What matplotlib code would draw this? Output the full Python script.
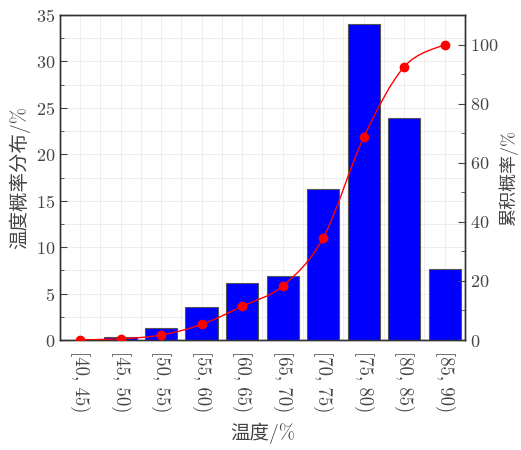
import numpy as np
import matplotlib
matplotlib.use("Agg")
import matplotlib.pyplot as plt
from matplotlib.path import Path
from matplotlib.patches import PathPatch
from matplotlib.ticker import MultipleLocator

plt.rcParams['font.family'] = ['cmr10', 'Noto Sans CJK SC', 'DejaVu Sans']
plt.rcParams['axes.formatter.use_mathtext'] = True

categories = ['[40, 45)', '[45, 50)', '[50, 55)', '[55, 60)', '[60, 65)',
              '[65, 70)', '[70, 75)', '[75, 80)', '[80, 85)', '[85, 90)']
dist = [0.05, 0.3, 1.3, 3.6, 6.1, 6.9, 16.3, 34.0, 23.9, 7.6]
cum = [0.1, 0.4, 1.7, 5.3, 11.4, 18.3, 34.6, 68.6, 92.5, 100.0]

TXT = '#444444'


def smooth_path(ax, xs, ys):
    # catmull-rom through the points, drawn as cubic bezier segments
    pts = np.array([ax.transData.transform((x, y)) for x, y in zip(xs, ys)])
    verts = [tuple(pts[0])]
    codes = [Path.MOVETO]
    n = len(pts)
    for i in range(n - 1):
        p0 = pts[i - 1] if i > 0 else pts[i]
        p1 = pts[i]
        p2 = pts[i + 1]
        p3 = pts[i + 2] if i + 2 < n else pts[i + 1]
        c1 = p1 + (p2 - p0) / 6
        c2 = p2 - (p3 - p1) / 6
        verts += [tuple(c1), tuple(c2), tuple(p2)]
        codes += [Path.CURVE4] * 3
    return Path(verts, codes)


fig = plt.figure(figsize=(5.21, 4.5), dpi=100)
ax = fig.add_axes([0.115, 0.2444, 0.7775, 0.7223])
x = np.arange(len(categories))

ax.bar(x, dist, width=0.8, color='#0000ff', edgecolor='#555555', linewidth=0.8, zorder=3)
ax.set_xlim(-0.5, len(categories) - 0.5)
ax.set_ylim(0, 35)
ax.yaxis.set_major_locator(MultipleLocator(5))
ax.yaxis.set_minor_locator(MultipleLocator(2.5))
ax.xaxis.set_minor_locator(MultipleLocator(0.5))
ax.set_xticks(x)
ax.set_xticklabels(categories, rotation=-90)
ax.grid(True, which='both', color='#ebebeb', linewidth=0.6, zorder=0)
ax.set_axisbelow(True)
ax.tick_params(axis='y', which='both', direction='in', right=False, labelsize=13, colors=TXT)
ax.tick_params(axis='y', which='major', length=5)
ax.tick_params(axis='y', which='minor', length=3)
ax.tick_params(axis='x', which='both', length=0, labelsize=13.5, colors=TXT, pad=8)
ax.set_ylabel('温度概率分布/%', fontsize=14, color=TXT, labelpad=4, fontweight='light')
ax.set_xlabel('温度/%', fontsize=14, color=TXT, labelpad=7, fontweight='light')
for s in ax.spines.values():
    s.set_color('#333333')
    s.set_linewidth(1.0)

ax2 = ax.twinx()
ax2.set_ylim(0, 110)
ax2.yaxis.set_major_locator(MultipleLocator(20))
ax2.yaxis.set_minor_locator(MultipleLocator(10))
ax2.tick_params(axis='y', which='both', direction='in', labelsize=13, colors=TXT)
ax2.tick_params(axis='y', which='major', length=5)
ax2.tick_params(axis='y', which='minor', length=3)
ax2.set_ylabel('累积概率/%', fontsize=13, color=TXT, labelpad=0, fontweight='light')
for s in ax2.spines.values():
    s.set_color('#333333')
    s.set_linewidth(1.0)

fig.canvas.draw()
path = smooth_path(ax2, x, cum)
ax2.add_patch(PathPatch(path, transform=None, facecolor='none', edgecolor='red', linewidth=1.0, zorder=4))
ax2.plot(x, cum, 'o', color='red', markersize=6, zorder=5)

fig.savefig('out.png', dpi=100)
